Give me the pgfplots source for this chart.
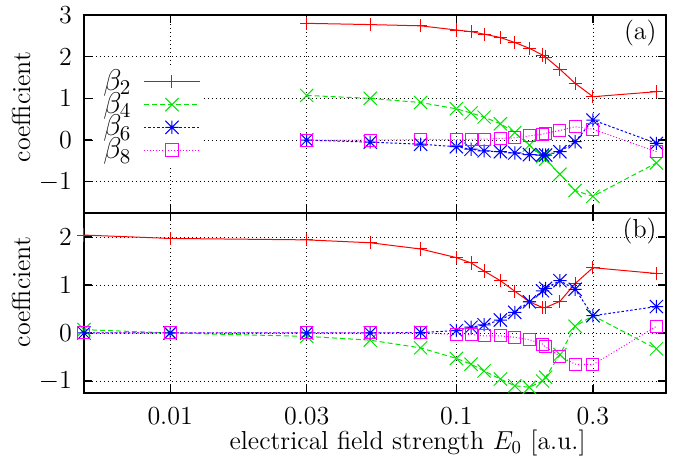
\RequirePackage{fix-cm}
\documentclass[border=0pt]{standalone}
\usepackage{pgfplots}
\usepackage{pgfplotstable}
\pgfplotsset{compat=1.18}

\definecolor{gpred}{rgb}{1,0,0}
\definecolor{gpgreen}{rgb}{0,0.9,0}
\definecolor{gpblue}{rgb}{0,0,1}
\definecolor{gpmag}{rgb}{1,0,1}

% gnuplot style marks: x in a square, and + overlaid with x
\pgfdeclareplotmark{gpx}{%
  \pgfpathmoveto{\pgfqpoint{-\pgfplotmarksize}{-\pgfplotmarksize}}%
  \pgfpathlineto{\pgfqpoint{\pgfplotmarksize}{\pgfplotmarksize}}%
  \pgfpathmoveto{\pgfqpoint{-\pgfplotmarksize}{\pgfplotmarksize}}%
  \pgfpathlineto{\pgfqpoint{\pgfplotmarksize}{-\pgfplotmarksize}}%
  \pgfusepathqstroke}
\pgfdeclareplotmark{gpstar}{%
  \pgfpathmoveto{\pgfqpoint{-\pgfplotmarksize}{0pt}}%
  \pgfpathlineto{\pgfqpoint{\pgfplotmarksize}{0pt}}%
  \pgfpathmoveto{\pgfqpoint{0pt}{-\pgfplotmarksize}}%
  \pgfpathlineto{\pgfqpoint{0pt}{\pgfplotmarksize}}%
  \pgfpathmoveto{\pgfqpoint{-\pgfplotmarksize}{-\pgfplotmarksize}}%
  \pgfpathlineto{\pgfqpoint{\pgfplotmarksize}{\pgfplotmarksize}}%
  \pgfpathmoveto{\pgfqpoint{-\pgfplotmarksize}{\pgfplotmarksize}}%
  \pgfpathlineto{\pgfqpoint{\pgfplotmarksize}{-\pgfplotmarksize}}%
  \pgfusepathqstroke}

% panel (a)
\pgfplotstableread{
x      b2    b4     b6     b8
0.03   2.80  1.07   0.00   0.00
0.05   2.77  1.00  -0.05   0.00
0.075  2.74  0.90  -0.10   0.01
0.1    2.64  0.75  -0.16   0.01
0.1125 2.60  0.65  -0.22   0.02
0.125  2.54  0.55  -0.26   0.02
0.1425 2.46  0.39  -0.28   0.04
0.16   2.34  0.18  -0.31   0.05
0.18   2.20 -0.12  -0.35   0.10
0.2    2.04 -0.40  -0.36   0.14
0.205  1.99 -0.46  -0.36   0.16
0.23   1.70 -0.82  -0.28   0.23
0.26   1.36 -1.21  -0.04   0.32
0.3    1.04 -1.35   0.48   0.26
0.5    1.16 -0.55  -0.08  -0.28
}\panela

% panel (b)
\pgfplotstableread{
x      b2    b4     b6    b8
0.005  2.04  0.07   0.00  0.00
0.01   1.97  0.00   0.00  0.00
0.03   1.94 -0.07   0.00  0.00
0.05   1.88 -0.15   0.00  0.00
0.075  1.75 -0.31   0.01  0.00
0.1    1.57 -0.53   0.05 -0.03
0.1125 1.46 -0.65   0.12 -0.03
0.125  1.29 -0.79   0.17 -0.06
0.1425 1.09 -0.96   0.27 -0.06
0.16   0.87 -1.10   0.43 -0.09
0.18   0.65 -1.13   0.65 -0.14
0.2    0.53 -1.00   0.88 -0.23
0.205  0.53 -0.92   0.93 -0.29
0.23   0.66 -0.45   1.09 -0.48
0.26   1.03  0.14   0.91 -0.65
0.3    1.36  0.36   0.36 -0.66
0.5    1.24 -0.33   0.55  0.14
}\panelb

\pgfplotsset{
  gpaxis/.style={
    scale only axis, width=291pt,
    xmin=0.005, xmax=0.54,
    xtick={0.01,0.03,0.1,0.3}, minor xtick={},
    grid=major,
    major grid style={black, line width=0.4pt, dash pattern=on 0.5pt off 1.5pt},
    tick align=inside, major tick length=4pt,
    tick style={black, line width=0.6pt},
    axis line style={line width=0.8pt},
    ylabel={coefficient},
    xticklabel style={yshift=-2.5pt},
    yticklabel style={xshift=-1.5pt},
  },
  serA/.style={color=gpred, line width=0.5pt, mark=+, mark size=3.3pt, mark options={solid}},
  serB/.style={color=gpgreen, line width=0.5pt, dash pattern=on 2.5pt off 1.5pt, mark=gpx, mark size=3.3pt, mark options={solid}},
  serC/.style={color=gpblue, line width=0.5pt, dash pattern=on 1.2pt off 1pt, mark=gpstar, mark size=3.3pt, mark options={solid}},
  serD/.style={color=gpmag, line width=0.5pt, dash pattern=on 0.5pt off 1pt, mark=square, mark size=3pt, mark options={solid}},
  % legend sample with its colour written in explicitly
  gpkey/.style n args={3}{legend image code/.code={%
      \path (0pt,0pt);
      \begin{scope}
        \pgfsetcolor{#1}\pgfsetstrokecolor{#1}
        \draw[draw=#1, line width=0.5pt, #2] (4pt,0pt) -- (32pt,0pt);
        \draw[draw=#1, line width=0.5pt, solid] plot[mark=#3, mark size=3.3pt, mark options={draw=#1, solid}] coordinates {(18pt,0pt)};
      \end{scope}}},
}

\begin{document}
\fontsize{13}{15.6}\selectfont
\begin{tikzpicture}
  % lower panel (b)
  \begin{semilogxaxis}[gpaxis,
      at={(0,0)}, anchor=south west, height=90pt,
      ymin=-1.25, ymax=2.5, ytick={-1,0,1,2},
      xticklabels={0.01,0.03,0.1,0.3},
      xlabel={electrical field strength $E_0$ [a.u.]},
      xlabel style={at={(axis description cs:0.556,0)}, anchor=base, yshift=-28.5pt},
      ylabel style={at={(axis description cs:-0.108,0.561)}, anchor=center},
    ]
    \addplot[serA] table[x=x, y=b2] {\panelb};
    \addplot[serB] table[x=x, y=b4] {\panelb};
    \addplot[serC] table[x=x, y=b6] {\panelb};
    \addplot[serD] table[x=x, y=b8] {\panelb};
    \node[anchor=north east, inner sep=0pt] at (rel axis cs:1,1) [xshift=-4.5pt, yshift=-2.5pt] {(b)};
  \end{semilogxaxis}
  % upper panel (a)
  \begin{semilogxaxis}[gpaxis,
      at={(0,90pt)}, anchor=south west, height=99pt,
      ymin=-1.75, ymax=3, ytick={-1,0,1,2,3},
      xticklabels={},
      ylabel style={at={(axis description cs:-0.108,0.535)}, anchor=center},
      legend plot pos=right,
      legend cell align=right,
      legend style={at={(rel axis cs:0,0.752)}, xshift=6pt, anchor=north west, draw=none, fill=white,
        inner xsep=1.5pt, inner ysep=0.5pt, row sep=-5pt,
        nodes={text=black}},
    ]
    \addplot[serA, gpkey={gpred}{solid}{+}] table[x=x, y=b2] {\panela};
    \addlegendentry{\fontsize{15}{18}\selectfont$\beta_2$}
    \addplot[serB, gpkey={gpgreen}{dash pattern=on 2.5pt off 1.5pt}{gpx}] table[x=x, y=b4] {\panela};
    \addlegendentry{\fontsize{15}{18}\selectfont$\beta_4$}
    \addplot[serC, gpkey={gpblue}{dash pattern=on 1.2pt off 1pt}{gpstar}] table[x=x, y=b6] {\panela};
    \addlegendentry{\fontsize{15}{18}\selectfont$\beta_6$}
    \addplot[serD, gpkey={gpmag}{dash pattern=on 0.5pt off 1pt}{square}] table[x=x, y=b8] {\panela};
    \addlegendentry{\fontsize{15}{18}\selectfont$\beta_8$}
    \node[anchor=north east, inner sep=0pt] at (rel axis cs:1,1) [xshift=-4.5pt, yshift=-2.5pt] {(a)};
  \end{semilogxaxis}
  \pgfresetboundingbox
  \path[use as bounding box] (-42pt,-33.5pt) rectangle (296.5pt,196.5pt);
\end{tikzpicture}
\end{document}
